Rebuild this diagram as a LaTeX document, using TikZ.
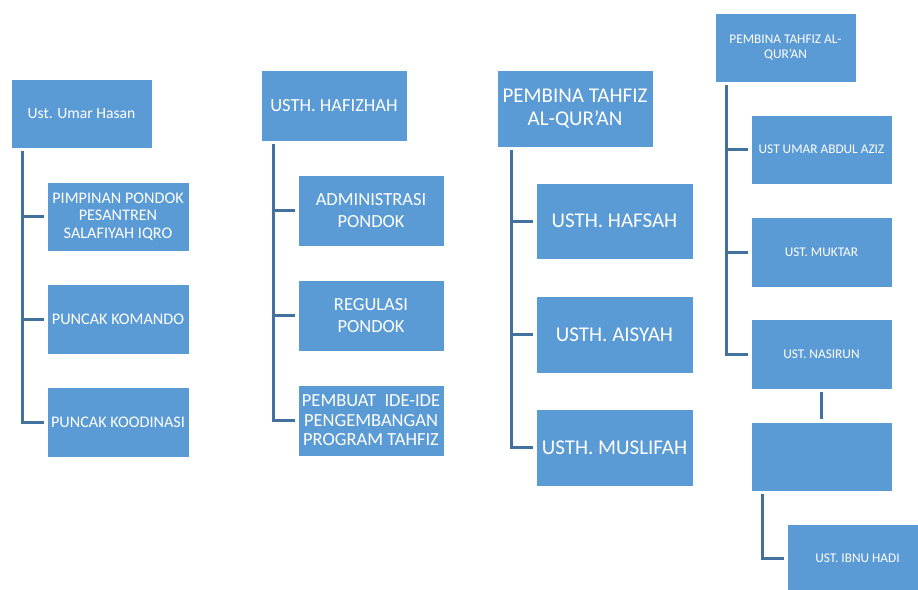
\documentclass[tikz,border=0pt]{standalone}
\usepackage{fontspec}
\setmainfont{Carlito}
\definecolor{boxblue}{HTML}{5B9BD5}
\definecolor{lineblue}{HTML}{41719C}
\begin{document}
\begin{tikzpicture}[x=1pt,y=-1pt,
  box/.style={rectangle, fill=boxblue, draw=white, line width=0.8pt, inner sep=0pt,
    text=white, align=center},
  conn/.style={draw=lineblue, line width=3pt, shorten <=3pt, shorten >=3pt},
  fA/.style={font=\fontsize{16.2}{17.6}\selectfont},
  fB/.style={font=\fontsize{18.5}{22}\selectfont},
  fC/.style={font=\fontsize{21}{23}\selectfont},
  fD/.style={font=\fontsize{13.3}{13.5}\selectfont}]
\useasboundingbox (0,0) rectangle (918,589);
\clip (0,0) rectangle (918,589);
% group 1
\node[box, font=\fontsize{15.6}{17}\selectfont, minimum width=141, minimum height=69] (g1r) at (81.5,113.5) {Ust. Umar Hasan};
\node[box, fA, minimum width=142, minimum height=69] (g1a) at (118,216.5) {PIMPINAN PONDOK\\PESANTREN\\SALAFIYAH IQRO};
\node[box, fA, minimum width=142, minimum height=70] (g1b) at (118,319) {PUNCAK KOMANDO};
\node[box, fA, minimum width=142, minimum height=70] (g1c) at (118,422) {PUNCAK KOODINASI};
\foreach \c in {g1a,g1b,g1c}
  \draw[conn] ([xshift=12]g1r.south west) |- (\c.west);
% group 2
\node[box, fB, minimum width=146, minimum height=71] (g2r) at (334,105.5) {USTH. HAFIZHAH};
\node[box, fB, minimum width=146, minimum height=71] (g2a) at (371,210.5) {ADMINISTRASI\\PONDOK};
\node[box, fB, minimum width=146, minimum height=71] (g2b) at (371,315.5) {REGULASI\\PONDOK};
\node[box, font=\fontsize{18.5}{19.5}\selectfont, minimum width=146, minimum height=71] (g2c) at (371,420.5) {PEMBUAT\ \ IDE-IDE\\PENGEMBANGAN\\PROGRAM TAHFIZ};
\foreach \c in {g2a,g2b,g2c}
  \draw[conn] ([xshift=13]g2r.south west) |- (\c.west);
% group 3
\node[box, fC, minimum width=156, minimum height=77] (g3r) at (575,108.5) {PEMBINA TAHFIZ\\AL-QUR’AN};
\node[box, fC, minimum width=157, minimum height=76] (g3a) at (614.5,221) {USTH. HAFSAH};
\node[box, fC, minimum width=157, minimum height=77] (g3b) at (614.5,334.5) {USTH. AISYAH};
\node[box, fC, minimum width=157, minimum height=77] (g3c) at (614.5,447.5) {USTH. MUSLIFAH};
\foreach \c in {g3a,g3b,g3c}
  \draw[conn] ([xshift=15]g3r.south west) |- (\c.west);
% group 4
\node[box, font=\fontsize{13.3}{15}\selectfont, minimum width=141, minimum height=69] (g4r) at (785.5,47.5) {PEMBINA TAHFIZ AL-\\QUR’AN};
\node[box, fD, minimum width=141, minimum height=69] (g4a) at (821.5,149.5) {UST UMAR ABDUL AZIZ};
\node[box, fD, minimum width=141, minimum height=70] (g4b) at (821.5,252) {UST. MUKTAR};
\node[box, fD, minimum width=141, minimum height=70] (g4c) at (821.5,354) {UST. NASIRUN};
\node[box, fD, minimum width=141, minimum height=69] (g4e) at (821.5,456.5) {};
\node[box, fD, minimum width=141, minimum height=69] (g4f) at (857.5,558.5) {UST. IBNU HADI};
\foreach \c in {g4a,g4b,g4c}
  \draw[conn] ([xshift=12]g4r.south west) |- (\c.west);
\draw[conn] (g4c) -- (g4e);
\draw[conn] ([xshift=12]g4e.south west) |- (g4f.west);
\end{tikzpicture}
\end{document}
